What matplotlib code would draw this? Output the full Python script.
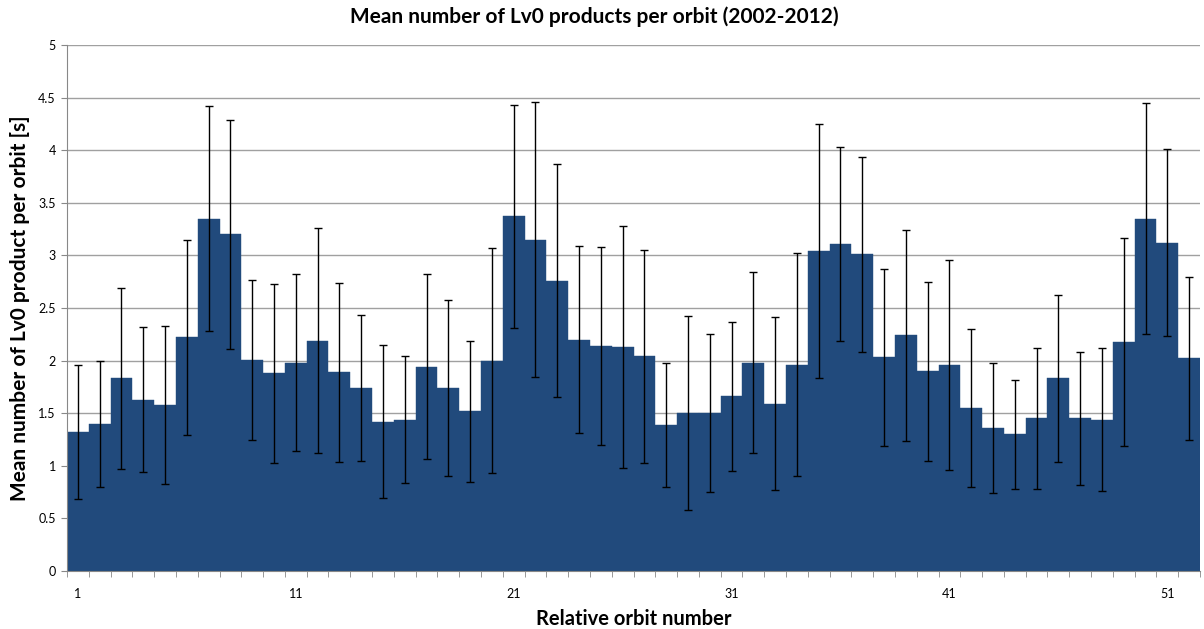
import numpy as np
import matplotlib
matplotlib.use('Agg')
import matplotlib.pyplot as plt

plt.rcParams['font.family'] = ['Lato', 'DejaVu Sans']

# 数据：每个相对轨道的平均Lv0产品数及标准差
orbits = list(range(1, 53))
mean_products = [
    1.32, 1.40, 1.83, 1.63, 1.58, 2.22, 3.35, 3.20, 2.01, 1.88,
    1.98, 2.19, 1.89, 1.74, 1.42, 1.44, 1.94, 1.74, 1.52, 2.00,
    3.37, 3.15, 2.76, 2.20, 2.14, 2.13, 2.04, 1.39, 1.50, 1.50,
    1.66, 1.98, 1.59, 1.96, 3.04, 3.11, 3.01, 2.03, 2.24, 1.90,
    1.96, 1.55, 1.36, 1.30, 1.45, 1.83, 1.45, 1.44, 2.18, 3.35,
    3.12, 2.02,
]
std_products = [
    0.64, 0.60, 0.86, 0.69, 0.75, 0.93, 1.07, 1.09, 0.76, 0.85,
    0.84, 1.07, 0.85, 0.69, 0.73, 0.60, 0.88, 0.84, 0.67, 1.07,
    1.06, 1.31, 1.11, 0.89, 0.94, 1.15, 1.01, 0.59, 0.92, 0.75,
    0.71, 0.86, 0.82, 1.06, 1.21, 0.92, 0.93, 0.84, 1.00, 0.85,
    1.00, 0.75, 0.62, 0.52, 0.67, 0.79, 0.63, 0.68, 0.99, 1.10,
    0.89, 0.77,
]
tick_orbits = [1, 11, 21, 31, 41, 51]

fig = plt.figure(figsize=(12.04, 6.29), dpi=100)
ax = fig.add_axes([67 / 1204, 1 - 571 / 629, (1200 - 67) / 1204, (571 - 45) / 629])

ax.bar(orbits, mean_products, width=1.0, color='#214A7C',
       edgecolor='#214A7C', linewidth=0.3, zorder=2)
ax.errorbar(orbits, mean_products, yerr=std_products, fmt='none',
            ecolor='black', elinewidth=1.0, capsize=3, capthick=1.0, zorder=3)

ax.set_xlim(0.5, len(orbits) + 0.5)
ax.set_ylim(0, 5)
ax.set_yticks(np.arange(0, 5.01, 0.5))
ax.set_yticklabels(['0', '0.5', '1', '1.5', '2', '2.5', '3', '3.5', '4', '4.5', '5'])
ax.yaxis.grid(True, color='#A0A0A0', linewidth=1.0, zorder=0)
ax.set_axisbelow(True)

# x轴：刻度线在类别之间，标签在类别中心
ax.set_xticks(np.arange(0.5, len(orbits) + 1, 1.0), minor=True)
ax.set_xticks(tick_orbits)
ax.set_xticklabels([str(t) for t in tick_orbits])
ax.tick_params(axis='x', which='major', length=0, pad=12, labelsize=9)
ax.tick_params(axis='x', which='minor', length=4, color='#888888', direction='out')
ax.tick_params(axis='y', length=4, color='#888888', labelsize=9, pad=4)

for side in ['top', 'right']:
    ax.spines[side].set_visible(False)
ax.spines['left'].set_color('#888888')
ax.spines['bottom'].set_color('#888888')

# 标题相对整张图居中
fig.text(594 / 1204, 1 - 17 / 629, 'Mean number of Lv0 products per orbit (2002-2012)',
         fontsize=15, fontweight='bold', ha='center', va='center')
ax.set_xlabel('Relative orbit number', fontsize=14.5, fontweight='bold', labelpad=7)
ax.set_ylabel('Mean number of Lv0 product per orbit [s]', fontsize=15,
              fontweight='bold', labelpad=6)

fig.savefig('out.png', dpi=100)
